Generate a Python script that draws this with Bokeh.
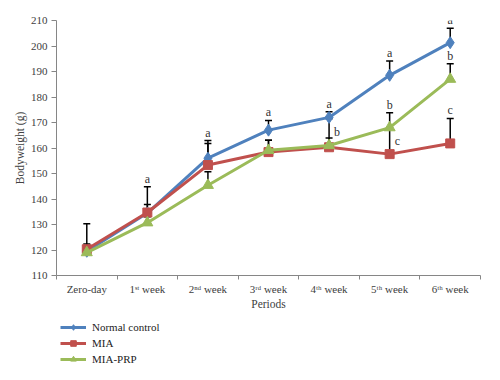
from bokeh.plotting import figure
from bokeh.layouts import column
from bokeh.models import ColumnDataSource, FixedTicker, SingleIntervalTicker, Legend, LegendItem, Range1d
from bokeh.core.properties import value
from bokeh.embed import file_html
from bokeh.resources import INLINE

periods = ["Zero-day", "1ˢᵗ week", "2ⁿᵈ week", "3ʳᵈ week", "4ᵗʰ week", "5ᵗʰ week", "6ᵗʰ week"]
normal = [119.5, 134.5, 156.0, 167.0, 172.0, 188.5, 201.3]
mia = [120.3, 134.7, 153.3, 158.4, 160.3, 157.6, 161.8]
prp = [119.0, 130.7, 145.4, 159.1, 161.0, 168.0, 187.0]
normal_err_top = [130.3, 144.8, 162.9, 170.8, 174.2, 194.1, 207.0]
mia_err_top = [122.4, 137.8, 161.8, 163.0, 163.9, 168.0, 171.6]
prp_err_top = [121.0, 133.0, 150.7, 163.0, 171.5, 173.8, 193.0]
normal_letters = ["", "a", "a", "a", "a", "a", "a"]
mia_letters = ["", "", "", "", "", "c", "c"]
prp_letters = ["", "", "", "", "b", "b", "b"]
mia_letter_side = [0, 0, 0, 0, 0, 1, 0]
prp_letter_side = [0, 0, 0, 0, 1, 0, 0]
normal_letter_side = [0, 0, 0, 0, 0, 0, 0]

FONT = "Liberation Serif"
FS = "11px"
xs = [i + 0.5 for i in range(len(periods))]

p = figure(width=484, height=318, output_backend="svg", toolbar_location=None,
           x_range=Range1d(0, len(periods)), y_range=Range1d(110, 210),
           min_border_left=56, min_border_right=4, min_border_top=20, min_border_bottom=43)
p.outline_line_color = None
p.xgrid.visible = False
p.ygrid.visible = False

series = [
    ("Normal control", normal, normal_err_top, normal_letters, normal_letter_side, "#4F81BD", "diamond", 12),
    ("MIA", mia, mia_err_top, mia_letters, mia_letter_side, "#C0504D", "square", 9),
    ("MIA-PRP", prp, prp_err_top, prp_letters, prp_letter_side, "#9BBB59", "triangle", 11),
]

# error bars
for name, vals, tops, letters, side, color, marker, size in series:
    src = ColumnDataSource(dict(x=xs, y=vals, top=tops))
    p.segment(x0="x", y0="y", x1="x", y1="top", source=src, line_color="black", line_width=1.5)
    p.scatter(x="x", y="top", source=src, marker="dash", size=7, line_color="black", line_width=1.5)

for name, vals, tops, letters, side, color, marker, size in series:
    src = ColumnDataSource(dict(x=xs, y=vals))
    p.line(x="x", y="y", source=src, line_color=color, line_width=3)
    p.scatter(x="x", y="y", source=src, marker=marker, size=size, fill_color=color, line_color=color)

# significance letters
for name, vals, tops, letters, side, color, marker, size in series:
    ax, ay, at = [], [], []
    sx, sy, st = [], [], []
    for x, v, t, l, s in zip(xs, vals, tops, letters, side):
        if not l:
            continue
        if s:
            sx.append(x); sy.append((v + t) / 2); st.append(l)
        else:
            ax.append(x); ay.append(t); at.append(l)
    p.text(x=ax, y=ay, text=at, text_font=value(FONT), text_font_size="12px",
           text_align="center", text_baseline="bottom", y_offset=-1, text_color="#333333")
    p.text(x=sx, y=sy, text=st, text_font=value(FONT), text_font_size="12px",
           text_align="left", text_baseline="middle", x_offset=5, text_color="#333333")

# axes
xa = p.xaxis[0]
xa.ticker = FixedTicker(ticks=xs, minor_ticks=list(range(len(periods) + 1)))
xa.major_label_overrides = {x: lab for x, lab in zip(xs, periods)}
xa.major_tick_out = 0
xa.major_tick_in = 0
xa.minor_tick_out = 4
xa.minor_tick_in = 0
xa.minor_tick_line_color = "#868686"
xa.axis_line_color = "#868686"
xa.major_label_standoff = 3
xa.axis_label = "Periods"
xa.axis_label_standoff = 0

ya = p.yaxis[0]
ya.ticker = SingleIntervalTicker(interval=10)
ya.major_tick_out = 5
ya.major_tick_in = 0
ya.minor_tick_line_color = None
ya.axis_line_color = "#868686"
ya.major_tick_line_color = "#868686"
ya.major_label_standoff = 4
ya.axis_label = "Bodyweight (g)"
ya.axis_label_standoff = 2

for a in (xa, ya):
    a.major_label_text_font = FONT
    a.major_label_text_font_size = FS
    a.major_label_text_color = "#404040"
    a.axis_label_text_font = FONT
    a.axis_label_text_font_size = "11.5px"
    a.axis_label_text_font_style = "normal"
    a.axis_label_text_color = "#404040"

# legend in its own strip below the chart (series drawn out of its view)
lg = figure(width=484, height=48, output_backend="svg", toolbar_location=None,
            x_range=Range1d(0, len(periods)), y_range=Range1d(0, 1),
            x_axis_location=None, y_axis_location=None,
            min_border_left=0, min_border_right=0, min_border_top=0, min_border_bottom=0)
lg.outline_line_color = None
lg.xgrid.visible = False
lg.ygrid.visible = False
items = []
for name, vals, tops, letters, side, color, marker, size in series:
    src = ColumnDataSource(dict(x=xs, y=vals))
    r1 = lg.line(x="x", y="y", source=src, line_color=color, line_width=3)
    r2 = lg.scatter(x="x", y="y", source=src, marker=marker, size=size - 1, fill_color=color, line_color=color)
    items.append(LegendItem(label=name, renderers=[r1, r2]))
legend = Legend(items=items, location=(4, 0), glyph_width=26, glyph_height=14,
                label_height=14, spacing=2, padding=0, margin=0, label_standoff=6,
                border_line_color=None, background_fill_alpha=0,
                label_text_font=FONT, label_text_font_size=FS, label_text_color="#222222")
lg.add_layout(legend, "center")

layout = column(p, lg, spacing=0)
open("out.html", "w").write(file_html(layout, INLINE))
